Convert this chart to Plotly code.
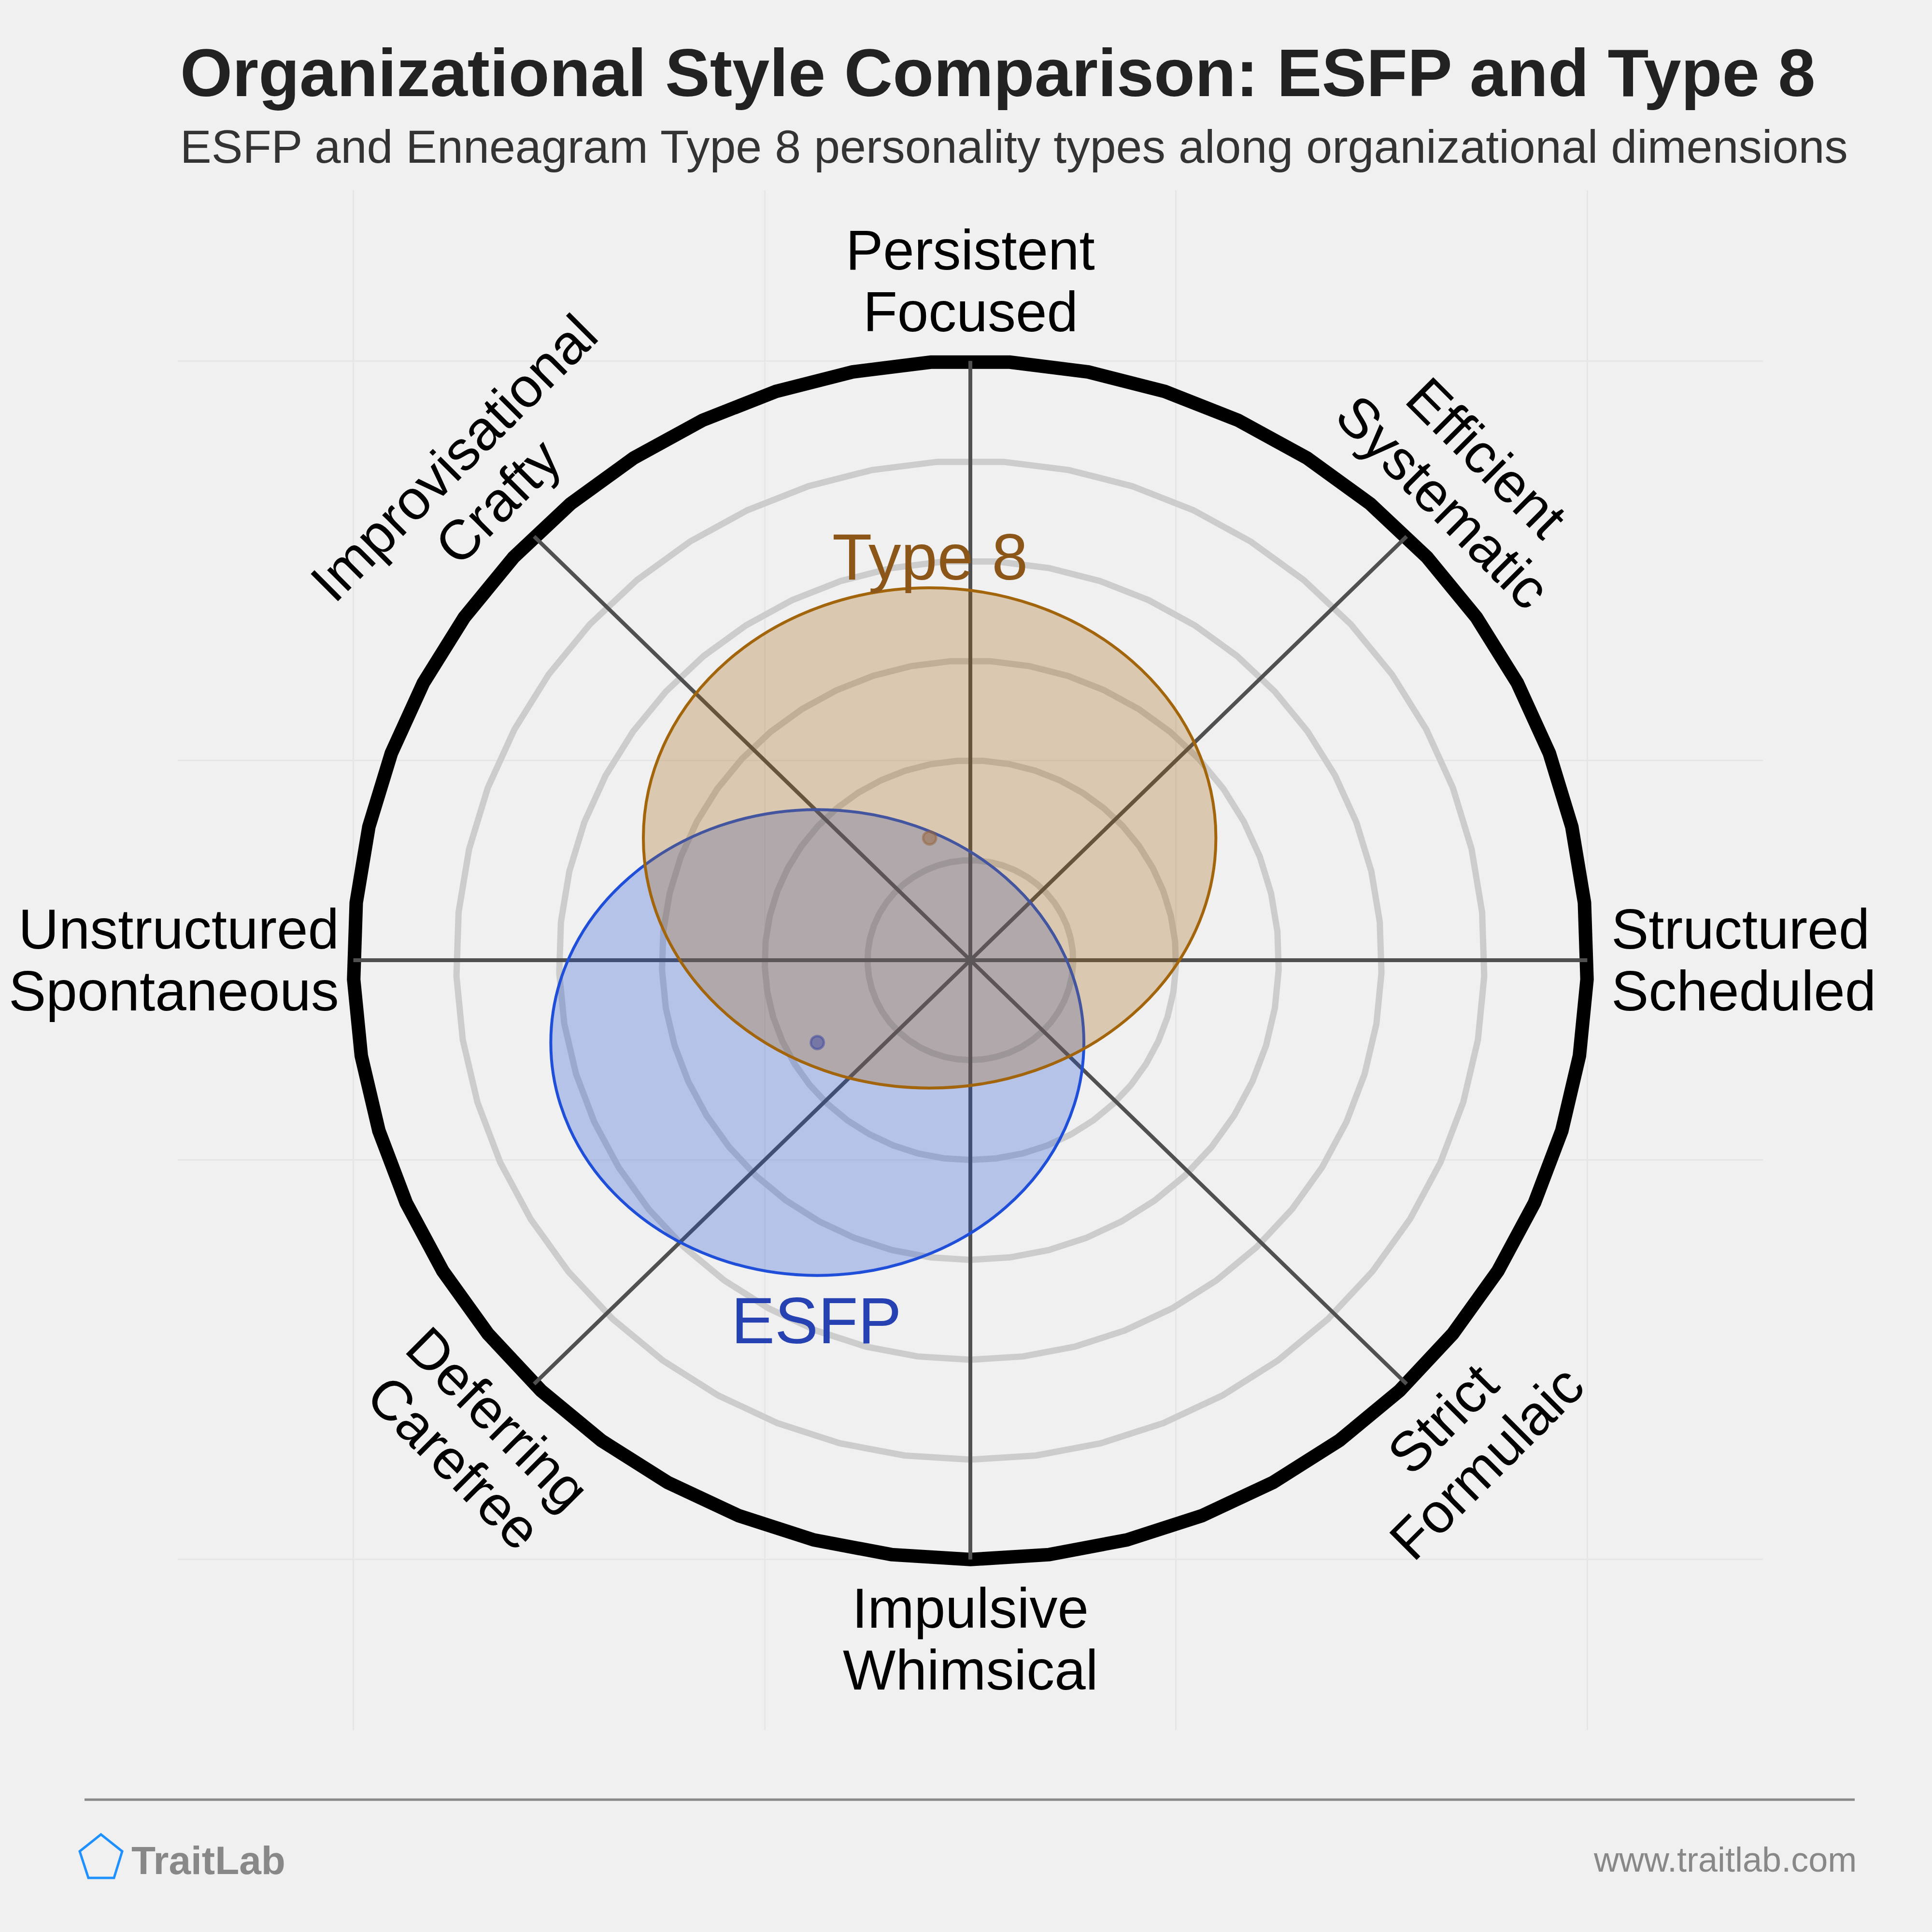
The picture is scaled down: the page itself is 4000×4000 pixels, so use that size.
import math
import plotly.graph_objects as go

# ---------------- data ----------------
type_names = ["ESFP", "Type 8"]
center_x = [-0.372, -0.099]
center_y = [-0.206, 0.306]
radius_x = [0.648, 0.696]
radius_y = [0.583, 0.626]
label_x = [-0.374, -0.098]
label_y = [-0.903, 1.009]

line_colors = ["#1f4fd8", "#a3650c"]
fill_colors = ["rgba(31,79,216,0.28)", "rgba(163,101,12,0.28)"]
dot_colors = ["rgba(60,70,160,0.5)", "rgba(150,100,60,0.5)"]
label_colors = ["#2541b2", "#8b5618"]

dim_first = ["Structured", "Efficient", "Persistent", "Improvisational",
             "Unstructured", "Deferring", "Impulsive", "Strict"]
dim_second = ["Scheduled", "Systematic", "Focused", "Crafty",
              "Spontaneous", "Carefree", "Whimsical", "Formulaic"]
dim_angles = [0, 45, 90, 135, 180, 225, 270, 315]

ring_levels = [0.25, 0.5, 0.75, 1.0, 1.25, 1.5]
grid_ticks = [-1.5, -0.5, 0.5, 1.5]

TITLE = "Organizational Style Comparison: ESFP and Type 8"
SUBTITLE = "ESFP and Enneagram Type 8 personality types along organizational dimensions"

# ---------------- layout constants ----------------
W = H = 4000
ML, MR, MT, MB = 368, 350, 394, 418
PW, PH = W - ML - MR, H - MT - MB
RNG = 1.927
FONT = "Liberation Sans, Arial, Helvetica, sans-serif"


def px2paper(px, py):
    return (px - ML) / PW, (H - MB - py) / PH


fig = go.Figure()
shapes = []

# rings (49-segment polygons starting at the bottom)
nseg = 49
for lvl in ring_levels:
    pts = []
    for k in range(nseg + 1):
        a = math.radians(-90 + k * 360.0 / nseg)
        pts.append((lvl * math.cos(a), lvl * math.sin(a)))
    path = "M " + " L ".join(f"{x:.5f},{y:.5f}" for x, y in pts) + " Z"
    outer = lvl == ring_levels[-1]
    shapes.append(dict(type="path", path=path, xref="x", yref="y", layer="between",
                       line=dict(color="#000000" if outer else "#cccccc",
                                 width=28 if outer else 13)))

# spokes
R = ring_levels[-1]
for ang in dim_angles:
    a = math.radians(ang)
    shapes.append(dict(type="line", xref="x", yref="y", layer="between",
                       x0=0, y0=0, x1=R * math.cos(a), y1=R * math.sin(a),
                       line=dict(color="#505050", width=8)))

# ellipses
for i in range(len(type_names)):
    shapes.append(dict(type="circle", xref="x", yref="y", layer="between",
                       x0=center_x[i] - radius_x[i], x1=center_x[i] + radius_x[i],
                       y0=center_y[i] - radius_y[i], y1=center_y[i] + radius_y[i],
                       fillcolor=fill_colors[i],
                       line=dict(color=line_colors[i], width=6)))

# centre dots
for i in range(len(type_names)):
    fig.add_trace(go.Scatter(x=[center_x[i]], y=[center_y[i]], mode="markers",
                             marker=dict(size=27, color=dot_colors[i],
                                         line=dict(color=dot_colors[i], width=5)),
                             hoverinfo="skip", showlegend=False))

annotations = []

# type labels
for i in range(len(type_names)):
    annotations.append(dict(x=label_x[i], y=label_y[i], xref="x", yref="y",
                            text=type_names[i], showarrow=False,
                            xanchor="center", yanchor="middle",
                            font=dict(family=FONT, size=135, color=label_colors[i])))

# dimension labels
PITCH = 128
LR = 1.70
for ang, t1, t2 in zip(dim_angles, dim_first, dim_second):
    a = math.radians(ang)
    if ang == 0:
        x, y, xa, tang = 1.556, 0.0, "left", 0
    elif ang == 180:
        x, y, xa, tang = -1.532, 0.0, "right", 0
    else:
        x, y, xa = LR * math.cos(a), LR * math.sin(a), "center"
        if ang in (45, 225):
            tang = 45
        elif ang in (135, 315):
            tang = -45
        else:
            tang = 0
    th = math.radians(tang)
    dx, dy = -math.sin(th), math.cos(th)  # screen "down" of rotated text
    for txt, s in ((t1, -1), (t2, 1)):
        sx = s * PITCH / 2 * dx
        sy = s * PITCH / 2 * dy
        annotations.append(dict(x=x, y=y, xref="x", yref="y", text=txt,
                                showarrow=False, xanchor=xa, yanchor="middle",
                                textangle=tang, xshift=sx, yshift=-sy,
                                font=dict(family=FONT, size=116, color="#000000")))

# title & subtitle
tx, ty = px2paper(371, 151)
annotations.append(dict(x=tx, y=ty, xref="paper", yref="paper", text=f"<b>{TITLE}</b>",
                        showarrow=False, xanchor="left", yanchor="middle",
                        font=dict(family=FONT, size=139, color="#222222")))
sx_, sy_ = px2paper(371, 303)
annotations.append(dict(x=sx_, y=sy_, xref="paper", yref="paper", text=SUBTITLE,
                        showarrow=False, xanchor="left", yanchor="middle",
                        font=dict(family=FONT, size=97, color="#333333")))

# footer
fx0, fy = px2paper(175, 3726)
fx1, _ = px2paper(3840, 3726)
shapes.append(dict(type="line", xref="paper", yref="paper", x0=fx0, x1=fx1, y0=fy, y1=fy,
                   line=dict(color="#888888", width=5), layer="above"))
pent = [(209, 3798), (253, 3833), (236, 3888), (183, 3888), (165, 3833)]
pp = [px2paper(x, y) for x, y in pent]
shapes.append(dict(type="path", xref="paper", yref="paper",
                   path="M " + " L ".join(f"{x:.5f},{y:.5f}" for x, y in pp) + " Z",
                   line=dict(color="#1e90ff", width=5), layer="above"))
bx, by = px2paper(270, 3851)
annotations.append(dict(x=bx, y=by, xref="paper", yref="paper", text="<b>TraitLab</b>",
                        showarrow=False, xanchor="left", yanchor="middle",
                        font=dict(family=FONT, size=82, color="#888888")))
ux, uy = px2paper(3846, 3850)
annotations.append(dict(x=ux, y=uy, xref="paper", yref="paper", text="www.traitlab.com",
                        showarrow=False, xanchor="right", yanchor="middle",
                        font=dict(family=FONT, size=72, color="#888888")))

axis_common = dict(range=[-RNG, RNG], tickvals=grid_ticks, showticklabels=False,
                   showgrid=True, gridcolor="#e6e6e6", gridwidth=3, zeroline=False,
                   showline=False, ticks="", fixedrange=True)

fig.update_layout(
    width=W, height=H,
    margin=dict(l=ML, r=MR, t=MT, b=MB, pad=0),
    paper_bgcolor="#f0f0f0", plot_bgcolor="#f0f0f0",
    xaxis=axis_common, yaxis=axis_common,
    shapes=shapes, annotations=annotations, showlegend=False,
)

fig.write_html("out.html",
               config={"displayModeBar": False, "staticPlot": True},
               post_script="document.body.style.margin='0';"
                           "document.body.style.padding='0';"
                           "document.body.style.background='#f0f0f0';")
